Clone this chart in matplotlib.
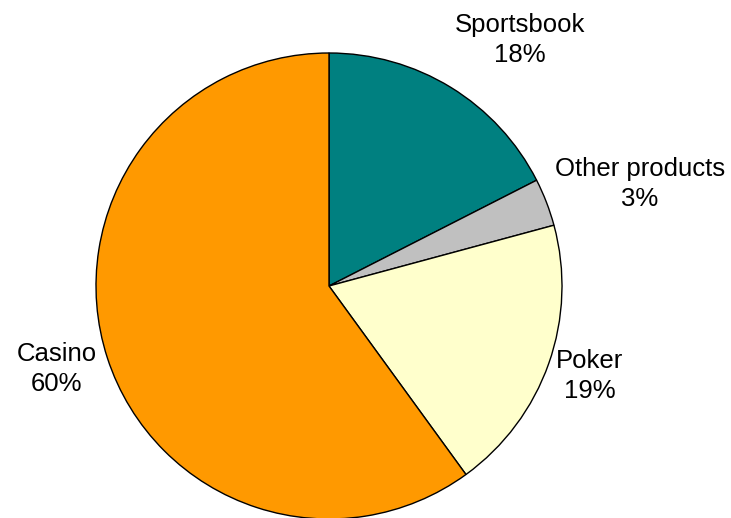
import matplotlib.pyplot as plt

# data (share of revenue, %)
categories = ["Sportsbook", "Other products", "Poker", "Casino"]
shares = [17.5, 3.3, 19.2, 60.0]
share_labels = ["18%", "3%", "19%", "60%"]
colors = ["#008080", "#C0C0C0", "#FFFFCC", "#FF9900"]

plt.rcParams['font.family'] = ['Liberation Sans', 'DejaVu Sans']

W, H = 731, 518
fig = plt.figure(figsize=(W / 100, H / 100), dpi=100)
ax = fig.add_axes([0, 0, 1, 1])

ax.pie(shares, colors=colors, startangle=90, counterclock=False,
       center=(329, H - 286), radius=233,
       wedgeprops=dict(edgecolor="black", linewidth=1.0))

# label positions (pixel coords, top-left origin)
label_pos = [(520, 40), (640, 184), (590, 376), (57, 369)]
for name, pct, (x, y) in zip(categories, share_labels, label_pos):
    ax.text(x, H - y, name + "\n" + pct, ha="center", va="center",
            fontsize=18.5, linespacing=1.36)

ax.set_xlim(0, W)
ax.set_ylim(0, H)
ax.set_aspect("equal")
ax.axis("off")

fig.savefig("out.png", dpi=100)
